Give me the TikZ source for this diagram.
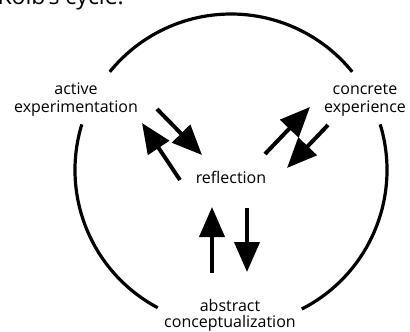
\documentclass[tikz,border=0pt]{standalone}
\usepackage{fontspec}
\setmainfont{Open Sans}
\usetikzlibrary{arrows.meta}
\begin{document}
\begin{tikzpicture}[x=1pt,y=-1pt,
  cyc/.style={line width=3.2pt},
  flow/.style={line width=4pt,-{Triangle[length=30pt,width=25pt]}},
  lbl/.style={font=\fontsize{16}{17.5}\selectfont, align=center, inner sep=0pt},
  ttl/.style={font=\fontsize{23}{23}\selectfont, inner sep=0pt}]
\clip (0,0) rectangle (410,332);
% title (cropped at the top edge, as in the reference)
\node[ttl, anchor=base east] (title) at (124,4.5) {Kolb's cycle:};
% labels (base anchor = baseline of the last line)
\node[lbl, anchor=base] (ae) at (76,112) {active\\experimentation};
\node[lbl, anchor=base] (ce) at (365,112) {concrete\\experience};
\node[lbl, anchor=base] (rf) at (231,183) {reflection};
\node[lbl, anchor=base, font=\fontsize{16}{16}\selectfont] (ac) at (230,327.5) {abstract\\conceptualization};
% circle arcs
\coordinate (c) at (231,170);
\draw[cyc] (c) ++(-39:156) arc[start angle=-39, end angle=-141, radius=156];
\draw[cyc] (c) ++(-163:156) arc[start angle=-163, end angle=-242, radius=156];
\draw[cyc] (c) ++(-17:156) arc[start angle=-17, end angle=63, radius=156];
% arrow end points
\coordinate (a1s) at (157,109); \coordinate (a1e) at (202,155);
\coordinate (a2s) at (180,180); \coordinate (a2e) at (142,123);
\coordinate (a3s) at (265,154); \coordinate (a3e) at (310,107);
\coordinate (a4s) at (328,125); \coordinate (a4e) at (287,168);
\coordinate (a5s) at (212,273); \coordinate (a5e) at (212,207);
\coordinate (a6s) at (247,208); \coordinate (a6e) at (247,272);
\draw[flow] (a1s) -- (a1e);
\draw[flow] (a2s) -- (a2e);
\draw[flow] (a3s) -- (a3e);
\draw[flow] (a4s) -- (a4e);
\draw[flow] (a5s) -- (a5e);
\draw[flow] (a6s) -- (a6e);
\end{tikzpicture}
\end{document}
